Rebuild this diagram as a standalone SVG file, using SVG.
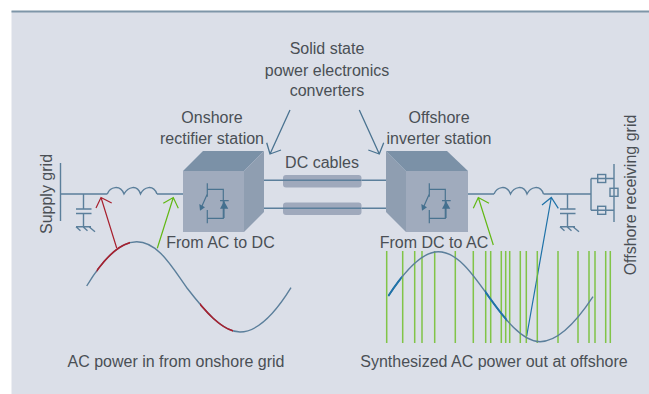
<svg xmlns="http://www.w3.org/2000/svg" width="649" height="394" viewBox="0 0 649 394">
<style>
text{font-family:"Liberation Sans",Arial,sans-serif;font-size:16px;fill:#4a4f55;text-anchor:middle}
.w{fill:none;stroke:#5b7f9b;stroke-width:1.4}
.d{fill:none;stroke:#4a7390;stroke-width:1.3}
.r{fill:none;stroke:#a8202e;stroke-width:1.2}
.g{fill:none;stroke:#62b814;stroke-width:1.2}
.b{fill:none;stroke:#1f72a8;stroke-width:1.2}
.bar{stroke:#72c02c;stroke-width:1.5;opacity:.85}
.pill{fill:#9fa9bc}
.front{fill:#a0abbd}
.side{fill:#8f9eb1}
.top{fill:#7b91a7}
.sym{fill:none;stroke:#4a7390;stroke-width:1.2}
.symf{fill:#44708f}
.r2{fill:none;stroke:#a8202e;stroke-width:1.7}
.b2{fill:none;stroke:#1f72a8;stroke-width:2}
</style>
<defs>
<g id="sw">
<path class="sym" d="M207.300 183.300V196.700M207.300 189.300H223.300V218.300H207.300M207.300 210V223.300M207.300 194L202 206M220 200.700H228.700M224 201V218"/>
<path class="symf" d="M199.300 204L205 207.300L200 210.700ZM224 201.300L228.300 208.700H220Z"/>
</g>
<g id="gnd">
<path class="w" d="M0 0H15M0 0L4.500 4M7 0L11.500 4M13 0L19 5"/>
</g>
<path id="wave-in" d="M86.700 286C100 264 118 241.700 136.700 241.700C158 241.700 172 267 187 288C204 310 222 332 240 332C258 332 276 312 291 287.700"/>
<path id="wave-out" d="M388.300 296C402 275 420 251.700 438.300 251.700C458 251.700 474 276 489 297C504 318 522 341.700 540 341.700C558 341.700 577 321 593 296.700"/>
<clipPath id="clip-red"><rect x="96.700" y="230" width="33.300" height="60"/><rect x="200" y="290" width="33" height="50"/></clipPath>
<clipPath id="clip-blue"><rect x="388" y="270" width="13.700" height="30"/><rect x="485" y="285" width="21.700" height="40"/></clipPath>
</defs>
<rect id="panel" x="11.500" y="11" width="637.500" height="383" fill="#dbdfe8"/>
<rect x="11.500" y="10.500" width="637.500" height="2" fill="#7e96a8"/>

<g id="connectors">
<path class="w" d="M253 180.300H397M253 208.300H397"/>
<path class="d" d="M290 110L270 154M266.700 142.700L270 154L281 150"/>
<path class="d" d="M359.300 110L379.300 154M368.300 150L379.300 154L383.700 142.700"/>
<path class="r" d="M116.700 248L101 197.500M96 208L101 197.500L111.700 203"/>
<path class="g" d="M157.300 248.300L173.300 197.500M163.300 203.300L173.300 197.500L178.300 208.300"/>
<path class="g" d="M493.300 245L478.300 197.500M473.300 208.300L478.300 197.500L489 203.300"/>
<path class="b" d="M526.700 336L551.300 197.500M542 205L551.300 197.500L558.300 208.300"/>
</g>

<g id="supply-grid">
<path class="w" d="M60.500 163V221M60 194H107.300M157 194H183M83.500 194V209M76 209H91.500M76 213.500H91.500M83.500 213.500V226.700"/>
<path class="w" d="M107.300 194C110 187 120 184 124 194C128 187 137 184 140.500 194C144 187 153 184 157 194"/>
<use href="#gnd" x="76" y="226.700"/>
<text transform="translate(51.500 194) rotate(-90)">Supply grid</text>
</g>

<g id="rectifier-station">
<path class="top" d="M183 171L203 151H264L244 171Z"/>
<path class="side" d="M244 171L264 151V212L244 232Z"/>
<rect class="front" x="183" y="171" width="61" height="61"/>
<use href="#sw"/>
<text x="212" y="123">Onshore</text>
<text x="212" y="144">rectifier station</text>
<text x="220.500" y="248">From AC to DC</text>
</g>

<g id="dc-cables">
<rect class="pill" x="283" y="175" width="78.500" height="12.500" rx="3"/>
<rect class="pill" x="283" y="202.500" width="78.500" height="12.500" rx="3"/>
<path class="w" d="M283 180.300H361M283 208.300H361"/>
<text x="322" y="168">DC cables</text>
</g>

<g id="inverter-station">
<path class="side" d="M386 151L406 171V232L386 212Z"/>
<path class="top" d="M386 151H447L468 171H406Z"/>
<rect class="front" x="406" y="171" width="62" height="61"/>
<use href="#sw" x="222"/>
<text x="439" y="123">Offshore</text>
<text x="439" y="144">inverter station</text>
<text x="434" y="248">From DC to AC</text>
</g>

<g id="receiving-grid">
<path class="w" d="M468 194H494M543.500 194H591M567.500 194V209M560 209H575.500M560 213.500H575.500M567.500 213.500V226.700"/>
<path class="w" d="M494 194C497 187 506.500 184 510.500 194C514 187 523.500 184 527 194C530.500 187 540 184 543.500 194"/>
<use href="#gnd" x="560" y="226.700"/>
<path class="w" d="M614 164V222M591 178.500V210.300M591 178.500H614M591 210.300H614"/>
<rect class="w" x="597.700" y="174.500" width="8" height="8"/>
<rect class="w" x="597.700" y="206.300" width="8" height="8"/>
<rect class="w" x="610" y="188.300" width="8" height="8"/>
<text transform="translate(636 195) rotate(-90)">Offshore receiving grid</text>
</g>

<g id="converters-label">
<text x="327" y="54">Solid state</text>
<text x="327" y="76">power electronics</text>
<text x="327" y="96">converters</text>
</g>

<g id="ac-in">
<use href="#wave-in" class="w"/>
<g clip-path="url(#clip-red)"><use href="#wave-in" class="r2"/></g>
<text x="176" y="367">AC power in from onshore grid</text>
</g>

<g id="ac-out">
<path class="bar" d="M386.700 251V343M402.700 251V343M414.700 251V343M422 251V343M434.700 251V343M455.300 251V343M473.300 251V343M485.700 251V343M490.700 251V343M501.300 251V343M505.700 251V343M509.700 251V343M520.300 251V343M526.300 251V343M537.300 251V343M558 251V343M578 251V343M589 251V343M595 251V343M605.700 251V343M610.300 251V343"/>
<use href="#wave-out" class="w"/>
<g clip-path="url(#clip-blue)"><use href="#wave-out" class="b2"/></g>
<text x="494" y="367">Synthesized AC power out at offshore</text>
</g>
</svg>
